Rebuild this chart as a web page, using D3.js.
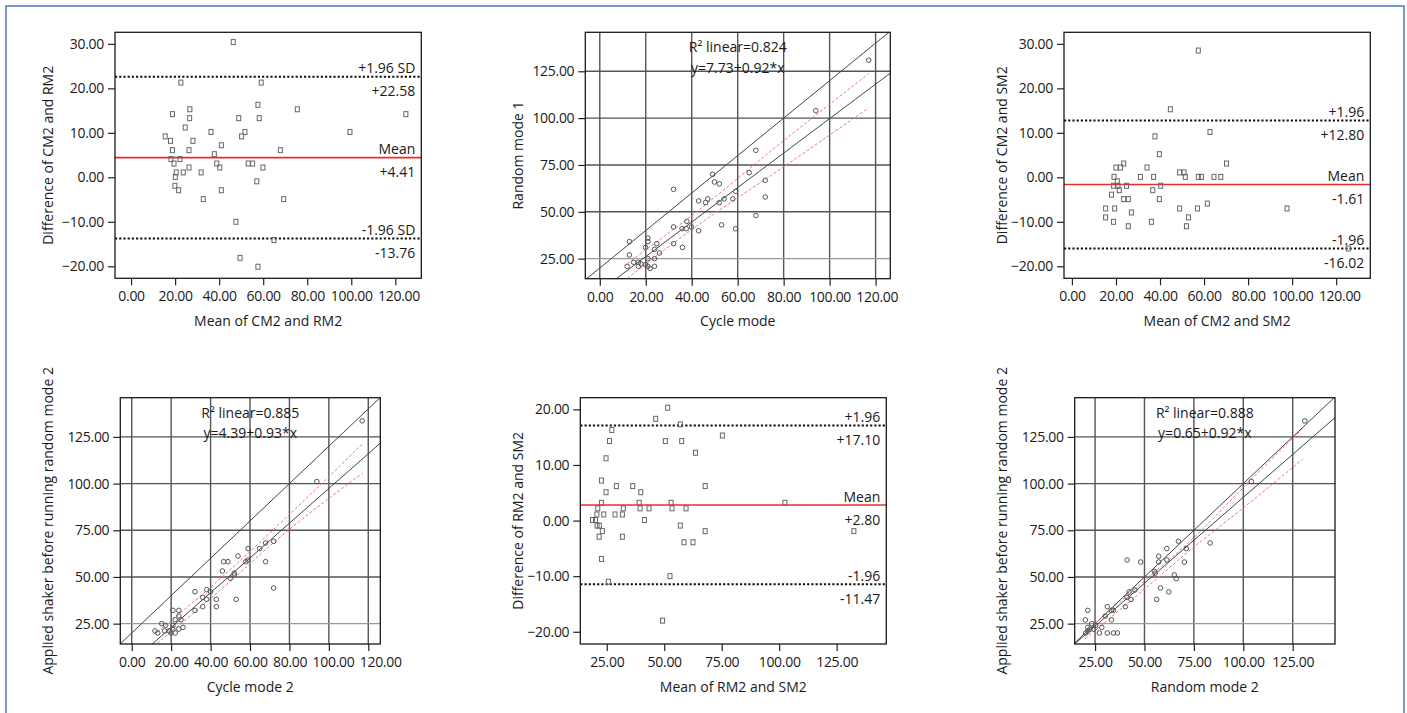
<!DOCTYPE html>
<html>
<head>
<meta charset="utf-8">
<script src="https://cdn.jsdelivr.net/npm/d3@7"></script>
<style>
  body { margin: 0; background: #fff; }
  text { font-family: "Open Sans", sans-serif; fill: #1a1a1a; }
</style>
</head>
<body>
<script>
"use strict"

/* ---- data ---- */

// Bland-Altman: CM2 vs RM2
let cmRmMean = [46.4, 22.6, 59.1, 18.8, 26.7, 26.6, 48.9, 57.6, 58.2, 75.5, 124.8, 24.6, 36.3, 51.7, 50.2, 99.4, 15.5, 17.9, 28.1, 18.8, 26.3, 41.0, 37.8, 67.8, 18.1, 22.2, 19.5, 38.9, 40.3, 26.3, 53.2, 55.2, 59.9, 20.5, 23.7, 31.8, 20.1, 19.9, 21.6, 41.0, 57.1, 32.8, 69.3, 47.6, 64.9, 49.5, 57.6];
let cmRmDiff = [30.4, 21.3, 21.3, 14.2, 15.3, 13.3, 13.3, 16.3, 13.3, 15.3, 14.2, 11.2, 10.2, 10.2, 9.2, 10.2, 9.2, 8.2, 8.2, 6.1, 6.1, 7.2, 5.2, 6.1, 4.1, 4.1, 3.1, 3.1, 2.2, 2.2, 3.1, 3.1, 2.2, 1.1, 1.1, 1.1, 0.1, -1.9, -2.9, -2.9, -0.9, -4.9, -4.9, -10.0, -14.1, -18.1, -20.1];
let cmRmLimits = [22.58, 4.41, -13.76];
let cmRmLimitNames = ["+1.96 SD", "Mean", "-1.96 SD"];
let cmRmLimitValues = ["+22.58", "+4.41", "-13.76"];

// Bland-Altman: CM2 vs SM2
let cmSmMean = [57.4, 44.7, 62.7, 37.7, 39.7, 70.2, 23.5, 20.0, 22.1, 34.1, 19.1, 31.1, 37.1, 48.9, 50.9, 51.5, 57.4, 58.8, 64.5, 67.6, 20.6, 18.9, 20.9, 24.8, 40.3, 21.5, 36.7, 18.0, 23.5, 25.6, 39.7, 61.5, 15.3, 19.4, 48.9, 57.0, 97.7, 27.0, 15.3, 52.9, 18.9, 36.1, 25.6, 52.0, 125.5];
let cmSmDiff = [28.5, 15.3, 10.2, 9.2, 5.2, 3.1, 3.1, 2.2, 2.2, 2.2, 0.1, 0.1, 0.1, 1.1, 1.1, 0.1, 0.1, 0.1, 0.1, 0.1, -0.9, -1.9, -1.9, -1.9, -1.9, -2.9, -2.9, -3.9, -4.9, -4.9, -4.9, -5.9, -7.0, -7.0, -7.0, -7.0, -7.0, -7.9, -9.0, -9.0, -10.0, -10.0, -11.0, -11.0, -16.0];
let cmSmLimits = [12.80, -1.61, -16.02];
let cmSmLimitNames = ["+1.96", "Mean", "-1.96"];
let cmSmLimitValues = ["+12.80", "-1.61", "-16.02"];

// Bland-Altman: RM2 vs SM2
let rmSmMean = [51.5, 46.3, 57.0, 27.2, 26.2, 50.5, 57.6, 75.3, 63.6, 24.7, 22.7, 29.2, 36.3, 67.8, 24.7, 39.8, 22.7, 39.1, 53.0, 102.5, 21.1, 32.2, 39.5, 43.4, 53.4, 59.5, 20.7, 23.7, 28.6, 31.8, 18.8, 20.1, 41.4, 20.8, 21.8, 57.0, 23.1, 67.8, 132.5, 21.7, 31.8, 58.6, 62.5, 22.7, 52.5, 25.7, 49.3];
let rmSmDiff = [20.3, 18.3, 17.3, 16.3, 14.3, 14.3, 14.3, 15.3, 12.2, 11.2, 7.2, 6.2, 6.2, 6.2, 5.1, 5.1, 3.2, 3.2, 3.2, 3.2, 2.2, 2.2, 2.2, 2.2, 2.2, 2.2, 1.1, 1.1, 1.1, 1.1, 0.1, 0.1, 0.1, -0.9, -0.9, -0.9, -1.9, -1.9, -1.9, -2.9, -2.9, -3.9, -3.9, -6.9, -10.0, -11.0, -18.0];
let rmSmLimits = [17.10, 2.80, -11.47];
let rmSmLimitNames = ["+1.96", "Mean", "-1.96"];
let rmSmLimitValues = ["+17.10", "+2.80", "-11.47"];

// Scatter: cycle mode vs random mode 1
let cycleX = [117.0, 94.0, 67.9, 49.1, 65.0, 49.9, 52.0, 72.0, 32.1, 59.1, 57.9, 54.1, 52.0, 47.0, 46.0, 43.0, 72.0, 67.9, 37.9, 35.8, 37.6, 39.9, 43.0, 32.1, 53.0, 59.1, 32.1, 36.0, 24.8, 20.9, 20.9, 19.9, 12.9, 23.8, 26.0, 12.9, 23.8, 20.9, 14.8, 16.8, 17.9, 16.8, 11.9, 19.9, 20.9, 21.9, 23.8];
let randomY = [130.9, 104.0, 82.8, 70.0, 70.9, 65.9, 64.9, 66.8, 62.0, 60.9, 56.9, 56.9, 54.9, 56.9, 54.9, 55.8, 57.9, 48.0, 44.9, 41.0, 41.0, 41.9, 39.9, 41.9, 43.0, 41.0, 33.0, 31.0, 33.0, 36.0, 34.1, 31.0, 34.1, 30.0, 28.0, 27.0, 25.0, 25.0, 23.0, 23.0, 22.2, 20.9, 20.9, 21.8, 20.9, 19.8, 20.9];
let cycleFit = [7.73, 0.92];      // intercept, slope
let cycleRef = 20;                // intercept of the upper reference line (slope 1)
let cycleBandX = [12, 40, 80, 117];
let cycleBandUp = [22.5, 48.0, 88.0, 123.7];
let cycleBandLo = [14.5, 40.5, 74.0, 105.5];

// Scatter: cycle mode 2 vs applied shaker
let cycle2X = [116.9, 93.9, 72.0, 67.9, 64.9, 59.0, 53.9, 46.6, 48.8, 57.9, 59.0, 67.9, 46.0, 52.0, 52.0, 50.0, 72.0, 32.1, 38.0, 40.0, 36.0, 38.0, 42.9, 53.0, 36.0, 42.9, 32.1, 20.9, 23.9, 23.9, 22.0, 25.0, 15.2, 17.2, 20.9, 26.0, 20.9, 23.9, 11.8, 16.7, 18.9, 13.2, 19.9, 22.0];
let shakerY = [133.6, 101.1, 69.1, 68.2, 65.2, 65.2, 61.2, 58.2, 58.2, 58.2, 59.1, 58.2, 53.2, 52.1, 51.1, 49.3, 44.1, 42.1, 43.2, 42.1, 39.1, 38.0, 38.0, 38.0, 34.1, 34.1, 32.1, 32.1, 32.1, 29.1, 27.1, 27.1, 25.0, 24.1, 24.1, 23.0, 22.1, 22.1, 21.1, 21.1, 21.1, 20.0, 20.0, 20.0];
let cycle2Fit = [4.39, 0.93];
let cycle2Ref = 20;
let cycle2BandX = [13, 40, 80, 117];
let cycle2BandUp = [20.5, 44.5, 83.5, 121.2];
let cycle2BandLo = [14.5, 38.5, 75.5, 105.5];

// Scatter: random mode 2 vs applied shaker
let random2X = [131.1, 104.1, 83.2, 67.2, 71.2, 61.3, 57.2, 41.2, 48.1, 57.2, 61.3, 70.2, 55.0, 55.4, 65.1, 66.1, 58.1, 62.3, 56.2, 42.2, 45.2, 41.2, 43.2, 40.3, 31.2, 33.3, 34.3, 21.3, 30.2, 33.3, 20.1, 28.4, 23.3, 25.3, 21.3, 22.3, 24.3, 27.2, 31.2, 34.3, 36.3, 20.3, 21.3];
let shaker2Y = [133.6, 101.1, 68.2, 69.1, 65.2, 65.2, 61.1, 59.1, 58.0, 58.0, 59.1, 58.0, 53.0, 52.0, 51.1, 49.1, 44.1, 42.0, 38.0, 42.0, 43.0, 39.1, 38.0, 34.1, 34.1, 32.1, 32.1, 32.1, 29.1, 27.0, 27.0, 23.0, 25.0, 24.1, 23.0, 22.0, 22.0, 20.0, 20.0, 20.0, 20.0, 20.0, 21.1];
let random2Fit = [0.65, 0.92];
let random2Ref = 0;
let random2BandX = [20, 50, 75, 100, 130];
let random2BandUp = [20.5, 48.0, 71.0, 98.0, 129.5];
let random2BandLo = [17.0, 43.5, 66.0, 87.0, 113.0];

// tick values
let ticks0to120 = [0, 20, 40, 60, 80, 100, 120];
let ticks25to125 = [25, 50, 75, 100, 125];
let ticksDiff30 = [-20, -10, 0, 10, 20, 30];
let ticksDiff20 = [-20, -10, 0, 10, 20];

/* ---- drawing ---- */

let drawing = d3.select("body")
    .append("svg")
    .attr("width", 1407)
    .attr("height", 713);

// blue frame round the whole figure
drawing.append("rect")
    .attr("x", 6)
    .attr("y", 6)
    .attr("width", 1398)
    .attr("height", 730)
    .attr("fill", "none")
    .attr("stroke", "#4d78c6")
    .attr("stroke-width", 1.5);

let fmt = d3.format(".2f");
let clipCount = 0;

// sets up one panel: scales, axes, frame, titles
function makePanel(cfg) {
    let [l, t, r, b] = cfg.box;
    let x = d3.scaleLinear().domain(cfg.xDomain).range([l, r]);
    let y = d3.scaleLinear().domain(cfg.yDomain).range([b, t]);
    let g = drawing.append("g");

    if (cfg.grid) {
        g.selectAll(".vgrid").data(cfg.xTicks).join("line")
            .attr("x1", d => x(d)).attr("x2", d => x(d))
            .attr("y1", t).attr("y2", b)
            .attr("stroke", "#555").attr("stroke-width", 1.4);
        g.selectAll(".hgrid").data(cfg.yTicks).join("line")
            .attr("x1", l).attr("x2", r)
            .attr("y1", d => y(d)).attr("y2", d => y(d))
            .attr("stroke", d => d === 25 ? "#9a9a9a" : "#555")
            .attr("stroke-width", 1.4);
    }

    let xAxis = g.append("g")
        .attr("transform", `translate(0,${b})`)
        .call(d3.axisBottom(x).tickValues(cfg.xTicks).tickFormat(fmt).tickSize(7).tickPadding(6));
    let yAxis = g.append("g")
        .attr("transform", `translate(${l},0)`)
        .call(d3.axisLeft(y).tickValues(cfg.yTicks).tickFormat(fmt).tickSize(7).tickPadding(4));
    [xAxis, yAxis].forEach(a => {
        a.select(".domain").remove();
        a.selectAll("line").attr("stroke", "#222").attr("stroke-width", 1.2);
        a.selectAll("text").style("font-family", "'Open Sans', sans-serif")
            .style("font-size", "14px").style("letter-spacing", "-0.3px")
            .attr("fill", "#1a1a1a");
    });

    // push crowded x tick labels apart, as the original does
    let prevRight = -Infinity;
    xAxis.selectAll(".tick text").each(function () {
        let box = this.getBBox();
        let tx = +d3.select(this.parentNode).attr("transform").match(/translate\(([-\d.]+)/)[1];
        let left = tx + box.x;
        let shift = Math.max(0, prevRight + 5 - left);
        d3.select(this).attr("x", shift);
        prevRight = left + shift + box.width;
    });

    g.append("text")
        .attr("x", (l + r) / 2)
        .attr("y", b + 42)
        .attr("text-anchor", "middle")
        .attr("dominant-baseline", "central")
        .style("font-size", "14px")
        .text(cfg.xTitle);
    g.append("text")
        .attr("transform", `translate(${cfg.yTitleX},${(t + b) / 2}) rotate(-90)`)
        .attr("text-anchor", "middle")
        .attr("dominant-baseline", "central")
        .style("font-size", "14px")
        .text(cfg.yTitle);

    let id = "clip" + (clipCount++);
    drawing.append("clipPath").attr("id", id)
        .append("rect").attr("x", l).attr("y", t).attr("width", r - l).attr("height", b - t);
    let inner = g.append("g").attr("clip-path", `url(#${id})`);

    return { g, inner, x, y, l, t, r, b };
}

function frameBox(p) {
    p.g.append("rect")
        .attr("x", p.l).attr("y", p.t)
        .attr("width", p.r - p.l).attr("height", p.b - p.t)
        .attr("fill", "none")
        .attr("stroke", "#1a1a1a")
        .attr("stroke-width", 1.3);
}

// Bland-Altman panel
function blandAltman(cfg, means, diffs, limits, names, values) {
    let p = makePanel(cfg);

    p.inner.selectAll(".limit").data(limits).join("line")
        .attr("x1", p.l).attr("x2", p.r)
        .attr("y1", d => p.y(d)).attr("y2", d => p.y(d))
        .attr("stroke", (d, i) => i === 1 ? "#ee2b2b" : "#111")
        .attr("stroke-width", (d, i) => i === 1 ? 1.7 : 2)
        .attr("stroke-dasharray", (d, i) => i === 1 ? null : "2.2,2");

    p.inner.selectAll(".pt").data(means).join("rect")
        .attr("x", d => p.x(d) - 2)
        .attr("y", (d, i) => p.y(diffs[i]) - 2.5)
        .attr("width", 4)
        .attr("height", 5)
        .attr("fill", "none")
        .attr("stroke", "#666")
        .attr("stroke-width", 1);

    limits.forEach((v, i) => {
        p.g.append("text")
            .attr("x", p.r - 6).attr("y", p.y(v) - 9)
            .attr("text-anchor", "end").attr("dominant-baseline", "central")
            .style("font-size", "14px")
            .text(names[i]);
        p.g.append("text")
            .attr("x", p.r - 6).attr("y", p.y(v) + 14)
            .attr("text-anchor", "end").attr("dominant-baseline", "central")
            .style("font-size", "14px")
            .text(values[i]);
    });

    frameBox(p);
}

// regression scatter panel
function regression(cfg, xs, ys, fit, ref, bandX, bandUp, bandLo) {
    let p = makePanel(cfg);
    let [x0, x1] = cfg.xDomain;

    // reference line (slope 1) and fit line
    let lines = [[ref, 1], fit];
    p.inner.selectAll(".fitline").data(lines).join("line")
        .attr("x1", p.x(x0)).attr("x2", p.x(x1))
        .attr("y1", d => p.y(d[0] + d[1] * x0))
        .attr("y2", d => p.y(d[0] + d[1] * x1))
        .attr("stroke", "#444")
        .attr("stroke-width", 1);

    // dashed red confidence band
    let band = d3.line().x(d => p.x(d[0])).y(d => p.y(d[1])).curve(d3.curveMonotoneX);
    [bandUp, bandLo].forEach(arr => {
        p.inner.append("path")
            .attr("d", band(bandX.map((v, i) => [v, arr[i]])))
            .attr("fill", "none")
            .attr("stroke", "#f07878")
            .attr("stroke-width", 1)
            .attr("stroke-dasharray", "3,2");
    });

    p.inner.selectAll(".pt").data(xs).join("circle")
        .attr("cx", d => p.x(d))
        .attr("cy", (d, i) => p.y(ys[i]))
        .attr("r", 2.3)
        .attr("fill", "none")
        .attr("stroke", "#555")
        .attr("stroke-width", 1);

    let cx = (p.l + p.r) / 2;
    p.g.append("text")
        .attr("x", cx).attr("y", p.t + 14.5)
        .attr("text-anchor", "middle").attr("dominant-baseline", "central")
        .style("font-size", "14px")
        .text("R² linear=" + cfg.r2);
    p.g.append("text")
        .attr("x", cx).attr("y", p.t + 35)
        .attr("text-anchor", "middle").attr("dominant-baseline", "central")
        .style("font-size", "14px")
        .text(`y=${fit[0].toFixed(2)}+${fit[1].toFixed(2)}*x`);

    frameBox(p);
}

/* top row */
blandAltman({
    box: [115, 32.3, 421.3, 278.3],
    xDomain: [-7.3, 131.8], yDomain: [-22.7, 32.6],
    xTicks: ticks0to120, yTicks: ticksDiff30,
    xTitle: "Mean of CM2 and RM2", yTitle: "Difference of CM2 and RM2", yTitleX: 47
}, cmRmMean, cmRmDiff, cmRmLimits, cmRmLimitNames, cmRmLimitValues);

regression({
    box: [585.3, 32.3, 890.3, 278.7],
    xDomain: [-6.3, 126.4], yDomain: [14.3, 145.8],
    xTicks: ticks0to120, yTicks: ticks25to125, grid: true,
    xTitle: "Cycle mode", yTitle: "Random mode 1", yTitleX: 517, r2: "0.824"
}, cycleX, randomY, cycleFit, cycleRef, cycleBandX, cycleBandUp, cycleBandLo);

blandAltman({
    box: [1064, 32.3, 1370.3, 278.3],
    xDomain: [-3.6, 135.5], yDomain: [-22.7, 32.6],
    xTicks: ticks0to120, yTicks: ticksDiff30,
    xTitle: "Mean of CM2 and SM2", yTitle: "Difference of CM2 and SM2", yTitleX: 1001
}, cmSmMean, cmSmDiff, cmSmLimits, cmSmLimitNames, cmSmLimitValues);

/* bottom row */
regression({
    box: [120.3, 397.7, 380.3, 644],
    xDomain: [-5.8, 126.1], yDomain: [14.1, 146],
    xTicks: ticks0to120, yTicks: ticks25to125, grid: true,
    xTitle: "Cycle mode 2", yTitle: "Applied shaker before running random mode 2", yTitleX: 47, r2: "0.885"
}, cycle2X, shakerY, cycle2Fit, cycle2Ref, cycle2BandX, cycle2BandUp, cycle2BandLo);

blandAltman({
    box: [580.3, 397.7, 886.3, 644],
    xDomain: [13.5, 146.6], yDomain: [-22.2, 22.1],
    xTicks: ticks25to125, yTicks: ticksDiff20,
    xTitle: "Mean of RM2 and SM2", yTitle: "Difference of RM2 and SM2", yTitleX: 517
}, rmSmMean, rmSmDiff, rmSmLimits, rmSmLimitNames, rmSmLimitValues);

regression({
    box: [1074.7, 397.7, 1335, 644],
    xDomain: [14.7, 146.4], yDomain: [14.1, 146],
    xTicks: ticks25to125, yTicks: ticks25to125, grid: true,
    xTitle: "Random mode 2", yTitle: "Applied shaker before running random mode 2", yTitleX: 1001, r2: "0.888"
}, random2X, shaker2Y, random2Fit, random2Ref, random2BandX, random2BandUp, random2BandLo);
</script>
</body>
</html>
